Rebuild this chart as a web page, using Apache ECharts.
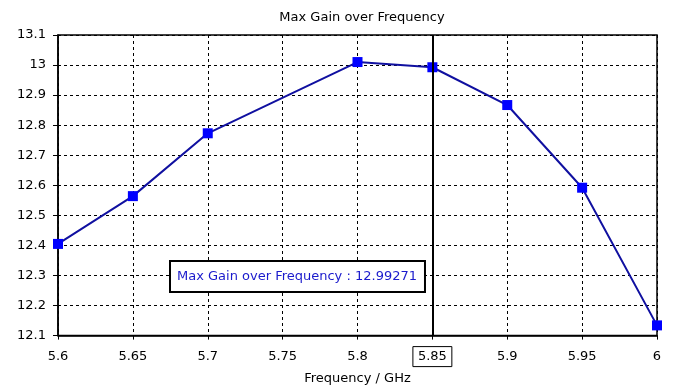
<!DOCTYPE html>
<html>
<head>
<meta charset="utf-8">
<script src="https://cdn.jsdelivr.net/npm/echarts@6/dist/echarts.min.js"></script>
<style>html,body{margin:0;padding:0;background:#fff}#c{width:673px;height:390px}</style>
</head>
<body>
<div id="c"></div>
<script>
const frequencies = [5.6, 5.65, 5.7, 5.8, 5.85, 5.9, 5.95, 6.0];
const maxGain = [12.405, 12.564, 12.773, 13.010, 12.99271, 12.867, 12.592, 12.134];
const cursorFreq = 5.85;
const cursorLabel = 'Max Gain over Frequency : 12.99271';
const titleText = 'Max Gain over Frequency';
const xAxisName = 'Frequency / GHz';

const FONT = 'DejaVu Sans';
const FS = 13;
const chart = echarts.init(document.getElementById('c'), null, {renderer: 'canvas'});
const fmt = v => String(Number(v.toFixed(2)));
chart.setOption({
  animation: false,
  backgroundColor: '#fff',
  title: {
    text: titleText, left: 357, top: 6, textAlign: 'center',
    textStyle: {fontFamily: FONT, fontSize: FS, fontWeight: 'normal', color: '#000'}
  },
  grid: {left: 58, right: 16, top: 35, bottom: 53, show: true, borderColor: '#000', borderWidth: 1.5},
  xAxis: {
    type: 'value', min: 5.6, max: 6.0, interval: 0.05,
    name: xAxisName, nameLocation: 'middle', nameGap: 36,
    nameTextStyle: {fontFamily: FONT, fontSize: FS, color: '#000'},
    axisLine: {lineStyle: {color: '#000', width: 1.5}},
    axisTick: {show: true, length: 4, lineStyle: {color: '#000'}},
    axisLabel: {
      fontFamily: FONT, fontSize: FS, color: '#000', margin: 11,
      formatter: v => Math.abs(v - cursorFreq) < 1e-6 ? '{b|' + fmt(v) + '}' : '{n|' + fmt(v) + '}',
      rich: {
        b: {fontFamily: FONT, fontSize: FS, color: '#000', borderColor: '#000', borderWidth: 1, padding: [4, 5, 3, 5]},
        n: {fontFamily: FONT, fontSize: FS, color: '#000', padding: [4, 5, 3, 5]}
      }
    },
    splitLine: {show: true, lineStyle: {color: '#000', type: [3, 3], width: 1}}
  },
  yAxis: {
    type: 'value', min: 12.1, max: 13.1, interval: 0.1,
    axisLine: {show: true, lineStyle: {color: '#000', width: 1.5}},
    axisTick: {show: true, length: 5, lineStyle: {color: '#000'}},
    axisLabel: {fontFamily: FONT, fontSize: FS, color: '#000', margin: 12, formatter: v => fmt(v)},
    splitLine: {show: true, lineStyle: {color: '#000', type: [3, 3], width: 1}}
  },
  series: [{
    type: 'line',
    data: frequencies.map((f, i) => [f, maxGain[i]]),
    symbol: 'rect', symbolSize: 10,
    lineStyle: {color: '#1010A0', width: 2},
    itemStyle: {color: '#0000FF'},
    z: 3,
    markLine: {
      silent: true, symbol: 'none', label: {show: false},
      lineStyle: {color: '#000', width: 2, type: 'solid'},
      data: [{xAxis: cursorFreq}],
      z: 4
    }
  }],
  graphic: [{
    type: 'text', left: 169, top: 260, z: 10,
    style: {
      text: cursorLabel, fontFamily: FONT, fontSize: FS, fill: '#1a1acc',
      backgroundColor: '#fff', borderColor: '#000', borderWidth: 2,
      padding: [8, 7, 8, 6]
    }
  }]
});
</script>
</body>
</html>
